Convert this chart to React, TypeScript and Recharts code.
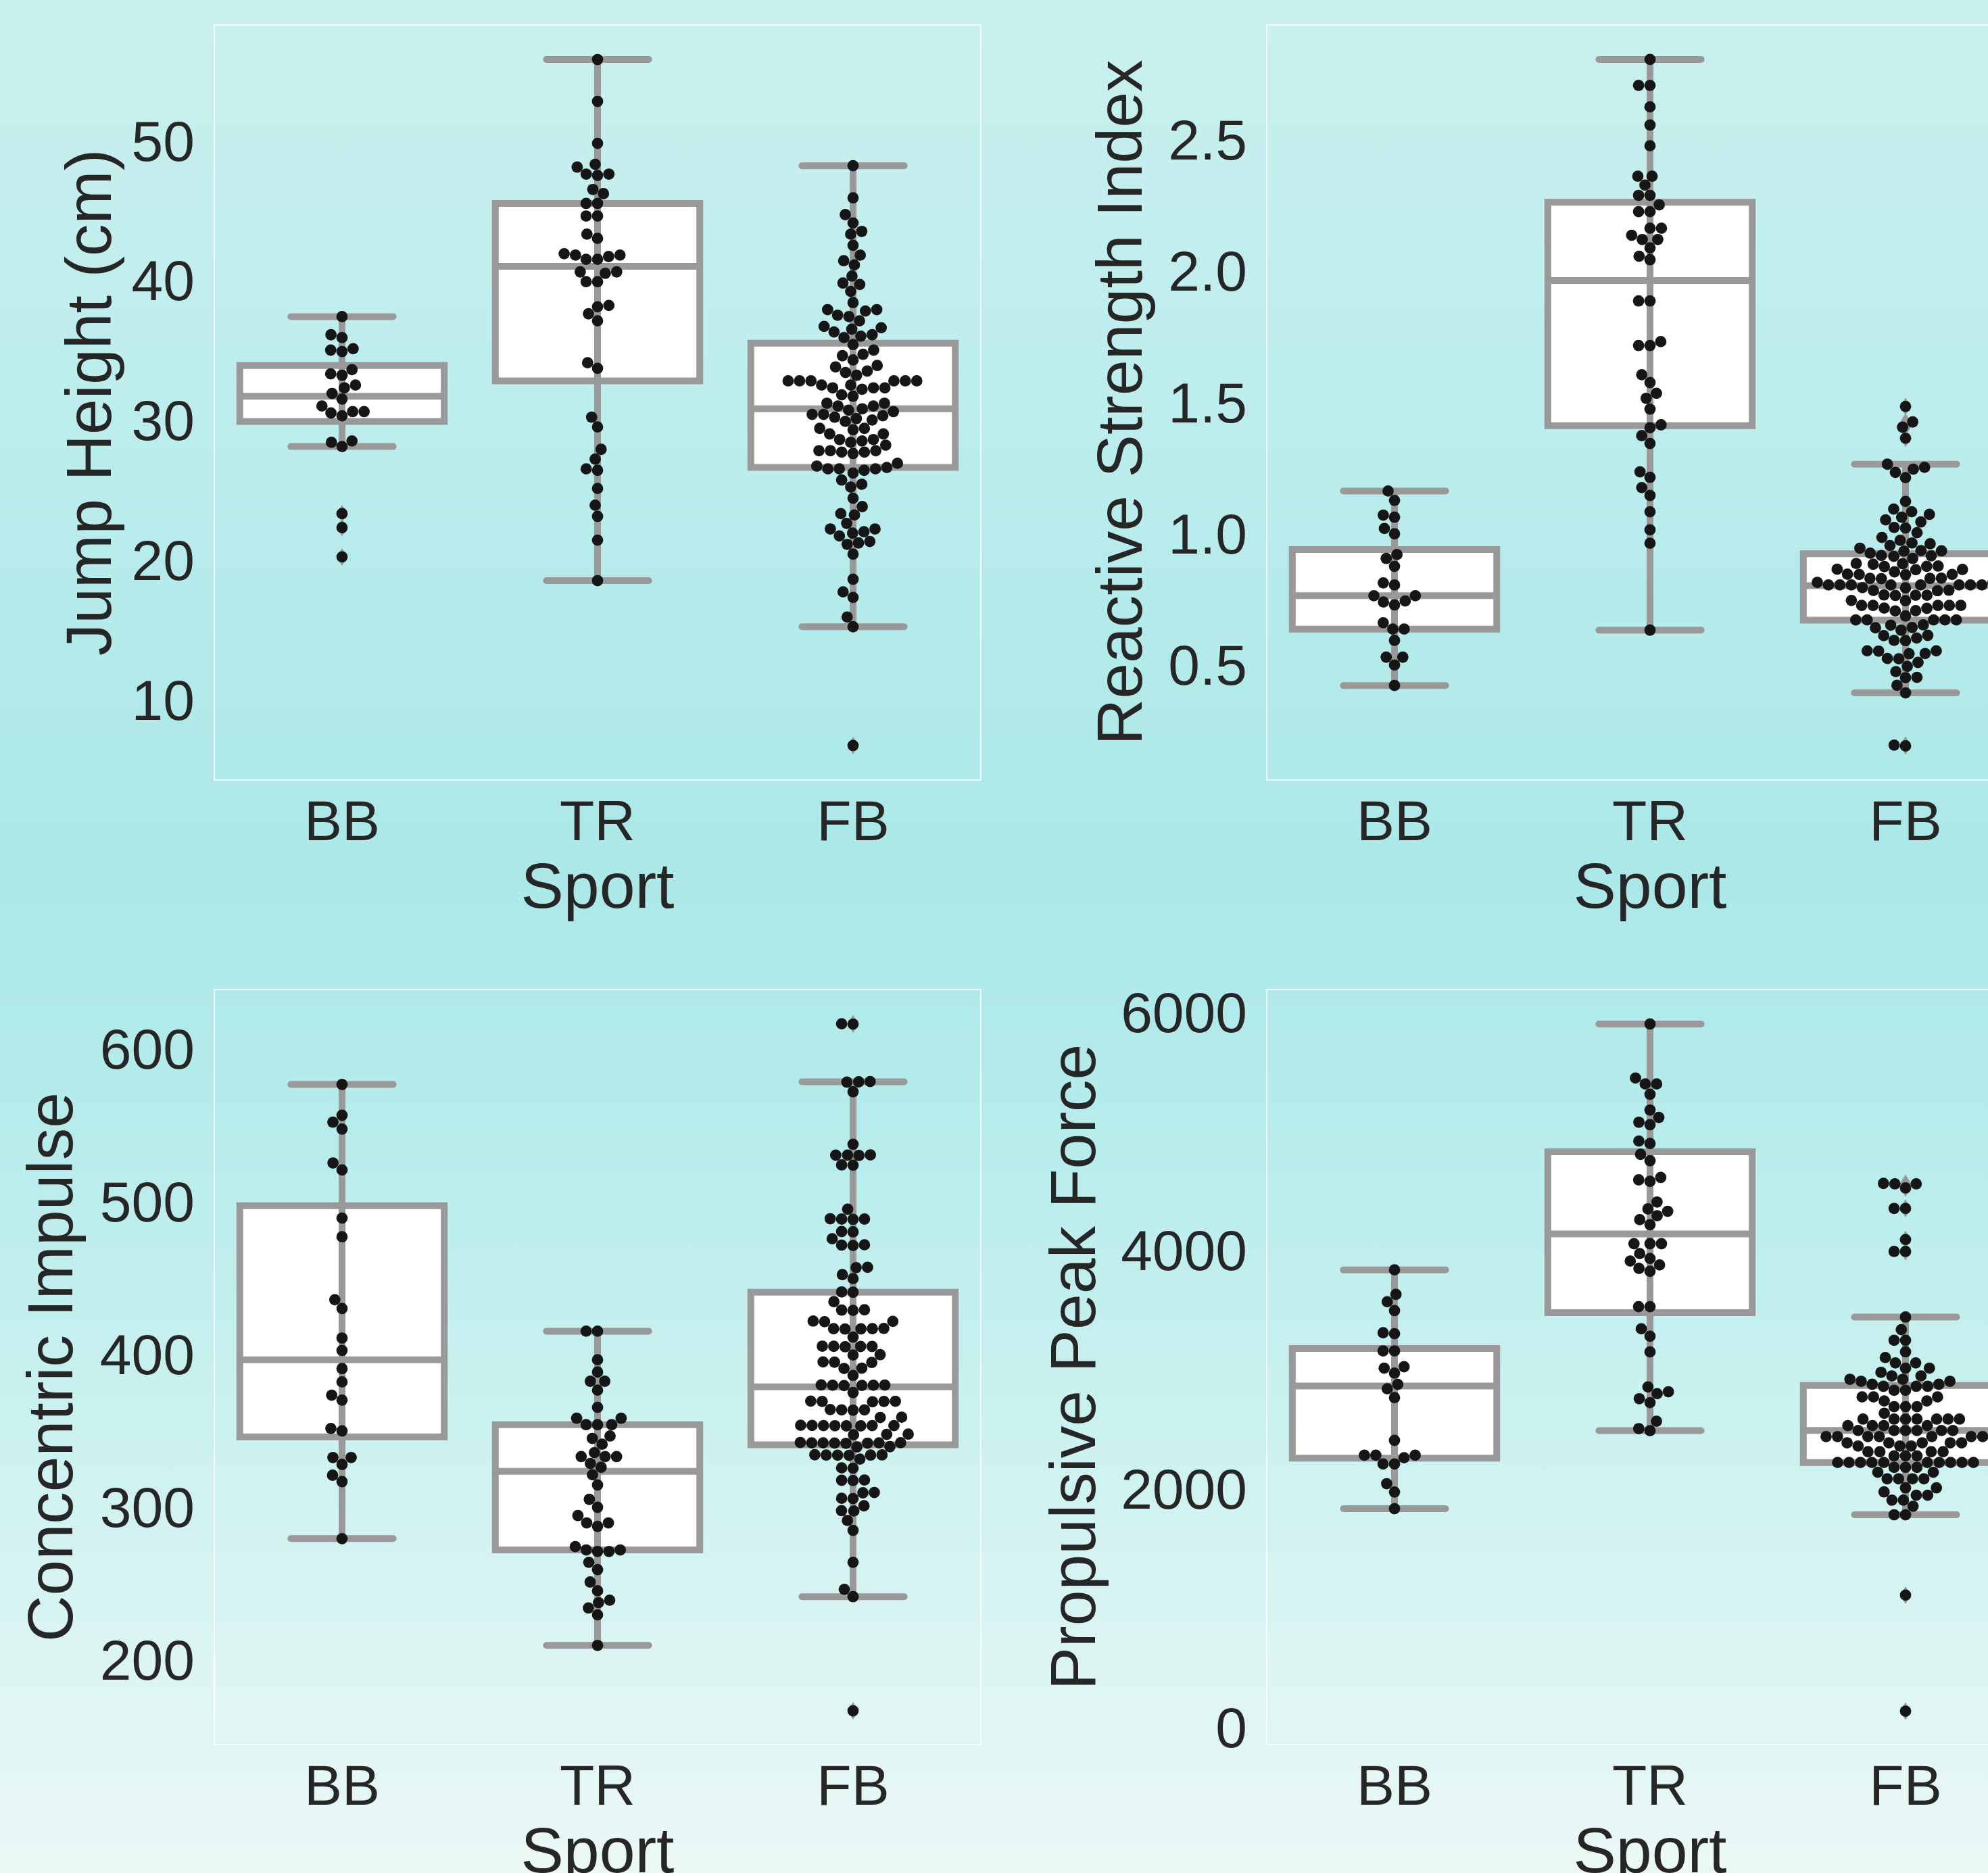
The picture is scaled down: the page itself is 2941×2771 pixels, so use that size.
import React from "react";
import {
  ScatterChart,
  Scatter,
  XAxis,
  YAxis,
  ReferenceArea,
  ReferenceLine,
} from "recharts";

const FONT = '"Liberation Sans", Arial, "DejaVu Sans", sans-serif';
const INK = "#262626";
const BOX_GRAY = "#999999";
const DOT_COLOR = "#161616";

const sports = ["BB", "TR", "FB"];

// Jump Height (cm)
const jumpBB = [37.4, 36.1, 35.9, 35.1, 35.0, 34.9, 33.6, 33.3, 33.2, 32.5, 32.3, 31.9, 31.5, 31.0, 30.6, 30.6, 30.5, 30.3, 28.5, 28.4, 28.1, 23.3, 22.3, 20.2];
const jumpTR = [55.8, 52.8, 49.8, 48.3, 48.1, 47.6, 47.6, 47.5, 46.5, 46.2, 45.5, 45.5, 44.6, 44.6, 43.3, 43.0, 41.9, 41.8, 41.8, 41.7, 41.5, 41.5, 40.6, 40.6, 40.5, 39.9, 39.9, 38.2, 38.1, 37.6, 37.1, 34.1, 33.7, 30.2, 29.5, 27.9, 27.2, 26.5, 26.4, 25.1, 23.9, 23.1, 21.4, 18.5];
const jumpFB = [
  48.2, 45.9, 44.7, 44.1, 43.5, 43.3, 42.5, 41.8, 41.4, 41.1, 40.3, 39.8, 39.7, 39.2, 38.4, 37.9, 37.9, 37.8,
  37.5, 37.4, 37.1, 36.7, 36.6, 36.5, 36.3, 36.1, 36.0, 35.9, 35.4, 35.0, 34.7, 34.6, 34.3, 33.9, 33.8, 33.5,
  33.4, 33.2, 32.8, 32.8, 32.8, 32.8, 32.8, 32.8, 32.5, 32.5, 32.3, 32.3, 32.2, 32.3, 31.8, 31.7, 31.2, 31.2,
  31.0, 31.0, 30.8, 30.7, 30.6, 30.4, 30.4, 30.3, 30.2, 30.1, 30.0, 29.9, 29.4, 29.4, 29.3, 29.0, 29.0, 28.6,
  28.6, 28.5, 28.4, 28.2, 27.8, 27.8, 27.8, 27.7, 27.6, 27.7, 26.9, 26.7, 26.6, 26.5, 26.5, 26.5, 26.4, 26.2,
  25.7, 25.4, 25.2, 24.4, 23.8, 23.3, 23.2, 22.6, 22.2, 22.2, 22.0, 21.9, 21.7, 21.3, 21.2, 21.1, 20.4, 18.6,
  17.7, 17.3, 15.9, 15.2, 6.7,
];
const jumpQ1 = [29.9, 32.8, 26.6];
const jumpMedian = [31.7, 41.0, 30.8];
const jumpQ3 = [33.9, 45.5, 35.5];
const jumpLow = [28.1, 18.5, 15.2];
const jumpHigh = [37.4, 55.8, 48.2];
const jumpTicks = [10, 20, 30, 40, 50];

// Reactive Strength Index
const rsiBB = [1.161, 1.125, 1.069, 1.061, 1.018, 0.998, 0.919, 0.904, 0.874, 0.811, 0.803, 0.762, 0.762, 0.742, 0.738, 0.727, 0.659, 0.635, 0.635, 0.592, 0.528, 0.528, 0.498, 0.42];
const rsiTR = [2.805, 2.706, 2.706, 2.624, 2.555, 2.476, 2.36, 2.36, 2.326, 2.287, 2.287, 2.251, 2.225, 2.225, 2.162, 2.162, 2.135, 2.119, 2.119, 2.087, 2.055, 2.042, 1.885, 1.885, 1.73, 1.715, 1.715, 1.604, 1.574, 1.533, 1.514, 1.473, 1.413, 1.402, 1.372, 1.342, 1.234, 1.213, 1.174, 1.144, 1.082, 1.013, 0.962, 0.631];
const rsiFB = [
  1.483, 1.424, 1.404, 1.362, 1.263, 1.251, 1.244, 1.232, 1.212, 1.121, 1.092, 1.082, 1.072, 1.061, 1.051, 1.043,
  1.022, 1.02, 1.002, 0.984, 0.973, 0.963, 0.96, 0.953, 0.943, 0.933, 0.932, 0.934, 0.924, 0.914, 0.912, 0.915,
  0.904, 0.884, 0.882, 0.885, 0.874, 0.873, 0.875, 0.862, 0.861, 0.863, 0.853, 0.843, 0.842, 0.844, 0.843, 0.828,
  0.827, 0.829, 0.828, 0.813, 0.812, 0.814, 0.803, 0.803, 0.803, 0.803, 0.803, 0.803, 0.803, 0.803, 0.793, 0.792,
  0.782, 0.781, 0.783, 0.764, 0.763, 0.765, 0.764, 0.744, 0.743, 0.725, 0.725, 0.725, 0.725, 0.725, 0.715, 0.714,
  0.705, 0.704, 0.685, 0.67, 0.67, 0.67, 0.67, 0.67, 0.651, 0.65, 0.641, 0.64, 0.631, 0.611, 0.61, 0.601, 0.592,
  0.591, 0.552, 0.552, 0.551, 0.542, 0.541, 0.523, 0.522, 0.508, 0.493, 0.473, 0.451, 0.45, 0.421, 0.392, 0.193, 0.19,
];
const rsiQ1 = [0.635, 1.41, 0.669];
const rsiMedian = [0.762, 1.963, 0.8];
const rsiQ3 = [0.938, 2.261, 0.922];
const rsiLow = [0.42, 0.631, 0.392];
const rsiHigh = [1.161, 2.805, 1.263];
const rsiTicks = [0.5, 1.0, 1.5, 2.0, 2.5];

// Concentric Impulse
const ciBB = [576.5, 556.3, 551.8, 547.3, 525.1, 520.5, 489.0, 476.8, 435.6, 429.8, 410.5, 402.4, 390.5, 381.8, 373.1, 369.9, 351.3, 349.7, 332.3, 332.3, 327.8, 320.7, 316.5, 279.2];
const ciTR = [415.0, 415.0, 396.3, 388.3, 382.2, 382.2, 376.4, 365.1, 358.0, 358.0, 353.8, 353.8, 353.8, 346.4, 344.8, 341.0, 335.5, 332.9, 332.9, 332.9, 328.4, 325.9, 321.0, 314.3, 304.9, 299.7, 294.3, 289.5, 289.5, 287.2, 274.0, 271.8, 271.8, 270.8, 270.8, 263.7, 258.9, 250.8, 245.1, 238.9, 237.3, 233.8, 229.3, 209.3];
const ciFB = [
  616.2, 616.0, 578.2, 578.4, 578.0, 571.7, 537.3, 530.2, 530.4, 530.0, 530.2, 523.8, 523.6, 494.8, 488.4, 488.6,
  488.2, 488.4, 480.0, 480.2, 475.5, 471.3, 471.5, 471.1, 456.8, 456.6, 452.0, 449.4, 440.7, 440.5, 434.3, 428.8,
  428.6, 429.0, 421.4, 421.2, 421.6, 416.6, 416.4, 416.8, 416.6, 416.5, 411.1, 405.0, 405.2, 404.8, 405.1, 405.0,
  399.6, 399.4, 394.7, 394.9, 394.5, 390.8, 390.6, 386.0, 379.6, 379.8, 379.4, 379.6, 379.7, 379.5, 374.8, 369.0,
  369.2, 368.8, 369.1, 369.0, 363.5, 363.7, 363.3, 363.5, 358.7, 358.5, 353.2, 353.4, 353.0, 353.2, 353.3, 353.1,
  353.2, 353.0, 347.4, 347.6, 347.2, 341.9, 342.1, 341.7, 341.9, 342.0, 341.8, 341.9, 341.6, 339.4, 339.2, 333.9,
  334.1, 333.7, 333.9, 334.0, 333.8, 331.3, 325.5, 325.3, 317.4, 317.6, 317.2, 309.4, 309.2, 305.6, 305.4, 300.7,
  297.5, 297.3, 291.1, 284.6, 263.7, 246.0, 241.2, 166.5,
];
const ciQ1 = [345.8, 271.8, 340.6];
const ciMedian = [396.3, 323.2, 378.6];
const ciQ3 = [497.1, 353.8, 440.5];
const ciLow = [279.2, 209.3, 241.2];
const ciHigh = [576.5, 415.0, 578.2];
const ciTicks = [200, 300, 400, 500, 600];

// Propulsive Peak Force
const ppfBB = [3835, 3629, 3567, 3493, 3307, 3299, 3155, 3155, 3022, 3010, 2969, 2874, 2837, 2763, 2404, 2280, 2280, 2280, 2259, 2206, 2206, 2041, 1971, 1831];
const ppfTR = [5897, 5444, 5394, 5394, 5307, 5175, 5113, 5073, 5052, 4915, 4895, 4804, 4750, 4610, 4590, 4577, 4404, 4346, 4326, 4289, 4256, 4214, 4054, 4054, 4054, 3971, 3930, 3909, 3876, 3847, 3823, 3526, 3526, 3340, 3278, 3146, 2853, 2812, 2796, 2754, 2721, 2565, 2503, 2486];
const ppfFB = [
  4556, 4556, 4560, 4522, 4350, 4350, 4089, 3989, 3989, 3439, 3333, 3244, 3244, 3147, 3099, 3054, 3054, 3010, 3010,
  2975, 2945, 2945, 2917, 2917, 2900, 2900, 2875, 2875, 2858, 2858, 2858, 2824, 2824, 2769, 2769, 2769, 2735, 2735,
  2687, 2687, 2687, 2632, 2583, 2583, 2583, 2583, 2583, 2583, 2583, 2528, 2528, 2528, 2528, 2487, 2487, 2487, 2487,
  2487, 2487, 2436, 2436, 2436, 2436, 2436, 2436, 2436, 2436, 2384, 2384, 2384, 2384, 2384, 2357, 2357, 2357, 2309,
  2309, 2309, 2309, 2274, 2274, 2274, 2219, 2219, 2219, 2219, 2219, 2219, 2219, 2219, 2219, 2219, 2178, 2178, 2178,
  2137, 2137, 2082, 2082, 2082, 2082, 2006, 2006, 1972, 1944, 1944, 1903, 1903, 1852, 1780, 1780, 1106, 133,
];
const ppfQ1 = [2255, 3476, 2219];
const ppfMedian = [2861, 4136, 2487];
const ppfQ3 = [3175, 4825, 2865];
const ppfLow = [1831, 2486, 1780];
const ppfHigh = [3835, 5897, 3439];
const ppfTicks = [0, 2000, 4000, 6000];

const CHART_W = 1600;
const CHART_H = 1420;
const Y_AXIS_W = 400;
const X_AXIS_H = 200;
const MARGIN = { top: 37, right: 49, bottom: 66, left: 17 };
const PLOT_W = CHART_W - MARGIN.left - Y_AXIS_W - MARGIN.right;
const PLOT_H = CHART_H - MARGIN.top - MARGIN.bottom - X_AXIS_H;
const DOT_R = 8.4;
const DOT_GAP = 16.9;
const SWARM_HALF = 0.4 * (PLOT_W / 3);

// beeswarm: place each point as close to the centre as it can go without overlap
function swarm(values: number[], pxPerUnit: number): number[] {
  const order = values.map((_, i) => i).sort((a, b) => values[a] - values[b]);
  const placed: { x: number; y: number }[] = [];
  const out = new Array(values.length).fill(0);
  for (const i of order) {
    const y = values[i] * pxPerUnit;
    const near = placed.filter((p) => Math.abs(p.y - y) < DOT_GAP);
    const cands = [0];
    near.forEach((p) => {
      const d = Math.sqrt(DOT_GAP * DOT_GAP - (p.y - y) ** 2);
      cands.push(p.x - d, p.x + d);
    });
    cands.sort((a, b) => Math.abs(a) - Math.abs(b));
    let chosen = 0;
    for (const c of cands) {
      if (near.every((p) => (p.x - c) ** 2 + (p.y - y) ** 2 >= DOT_GAP * DOT_GAP - 0.5)) {
        chosen = c;
        break;
      }
    }
    placed.push({ x: chosen, y });
    out[i] = Math.max(-SWARM_HALF, Math.min(SWARM_HALF, chosen));
  }
  return out;
}

type PanelProps = {
  title: string;
  titleOffset: number;
  groups: number[][];
  q1: number[];
  median: number[];
  q3: number[];
  low: number[];
  high: number[];
  domain: [number, number];
  ticks: number[];
  fmt: (v: number) => string;
  left: number;
  top: number;
};

function Panel(p: PanelProps) {
  const span = p.domain[1] - p.domain[0];
  const pxPerUnit = PLOT_H / span;
  const points = p.groups.flatMap((vals, g) => {
    const dx = swarm(vals, pxPerUnit);
    return vals.map((v, i) => ({ x: g, y: v, dx: dx[i] }));
  });
  const fliers = p.groups.flatMap((vals, g) =>
    vals
      .filter((v) => v < p.low[g] - span * 0.001 || v > p.high[g] + span * 0.001)
      .map((v) => ({ x: g, y: v }))
  );

  const yTitle = (props: any) => {
    const vb = props.viewBox;
    const x = vb.x + vb.width - p.titleOffset;
    const y = vb.y + vb.height / 2;
    return (
      <text x={x} y={y} transform={`rotate(-90 ${x} ${y})`} textAnchor="middle" fontSize={95} fill={INK} fontFamily={FONT}>
        {p.title}
      </text>
    );
  };
  const xTitle = (props: any) => {
    const vb = props.viewBox;
    return (
      <text x={vb.x + vb.width / 2} y={vb.y + 189} textAnchor="middle" fontSize={95} fill={INK} fontFamily={FONT}>
        Sport
      </text>
    );
  };

  return (
    <div style={{ position: "absolute", left: p.left, top: p.top, width: CHART_W, height: CHART_H }}>
      <div
        style={{
          position: "absolute",
          boxSizing: "border-box",
          left: MARGIN.left + Y_AXIS_W - 1,
          top: MARGIN.top - 1,
          width: PLOT_W + 2,
          height: PLOT_H + 2,
          border: "2px solid rgba(255,255,255,0.85)",
        }}
      />
      <ScatterChart width={CHART_W} height={CHART_H} margin={MARGIN} style={{ position: "absolute", left: 0, top: 0 }}>
        <XAxis
          type="number"
          dataKey="x"
          domain={[-0.5, 2.5]}
          ticks={[0, 1, 2]}
          interval={0}
          tickFormatter={(i: number) => sports[i]}
          axisLine={false}
          tickLine={false}
          tickSize={0}
          tickMargin={29}
          height={X_AXIS_H}
          tick={{ fontSize: 84, fill: INK, fontFamily: FONT }}
          label={xTitle}
          allowDataOverflow
        />
        <YAxis
          type="number"
          dataKey="y"
          domain={p.domain}
          ticks={p.ticks}
          interval={0}
          tickFormatter={p.fmt}
          axisLine={false}
          tickLine={false}
          tickSize={0}
          tickMargin={29}
          width={Y_AXIS_W}
          tick={{ fontSize: 84, fill: INK, fontFamily: FONT }}
          label={yTitle}
          allowDataOverflow
        />
        {sports.map((s, g) => (
          <ReferenceLine
            key={`wl-${s}`}
            segment={[{ x: g, y: p.low[g] }, { x: g, y: p.high[g] }]}
            stroke={BOX_GRAY}
            strokeWidth={10}
          />
        ))}
        {sports.map((s, g) => (
          <ReferenceLine
            key={`cl-${s}`}
            segment={[{ x: g - 0.2, y: p.low[g] }, { x: g + 0.2, y: p.low[g] }]}
            stroke={BOX_GRAY}
            strokeWidth={10}
            strokeLinecap="round"
          />
        ))}
        {sports.map((s, g) => (
          <ReferenceLine
            key={`ch-${s}`}
            segment={[{ x: g - 0.2, y: p.high[g] }, { x: g + 0.2, y: p.high[g] }]}
            stroke={BOX_GRAY}
            strokeWidth={10}
            strokeLinecap="round"
          />
        ))}
        {sports.map((s, g) => (
          <ReferenceArea
            key={`box-${s}`}
            x1={g - 0.4}
            x2={g + 0.4}
            y1={p.q1[g]}
            y2={p.q3[g]}
            fill="#ffffff"
            fillOpacity={1}
            stroke={BOX_GRAY}
            strokeWidth={10}
          />
        ))}
        {sports.map((s, g) => (
          <ReferenceLine
            key={`med-${s}`}
            segment={[{ x: g - 0.4, y: p.median[g] }, { x: g + 0.4, y: p.median[g] }]}
            stroke={BOX_GRAY}
            strokeWidth={10}
          />
        ))}
        <Scatter
          data={fliers}
          isAnimationActive={false}
          shape={(props: any) => (
            <polygon
              points={`${props.cx},${props.cy - 13} ${props.cx + 8},${props.cy} ${props.cx},${props.cy + 13} ${props.cx - 8},${props.cy}`}
              fill={BOX_GRAY}
            />
          )}
        />
        <Scatter
          data={points}
          isAnimationActive={false}
          shape={(props: any) => (
            <circle cx={props.cx + (props.payload?.dx ?? 0)} cy={props.cy} r={DOT_R} fill={DOT_COLOR} />
          )}
        />
      </ScatterChart>
    </div>
  );
}

export default function App() {
  return (
    <div
      style={{
        position: "absolute",
        left: 0,
        top: 0,
        width: 2941,
        height: 2771,
        overflow: "hidden",
        background:
          "linear-gradient(180deg, #c9f0ee 0%, #bdeded 22%, #ace8e8 46%, #b4ebeb 58%, #cdf2f0 78%, #ebf8f6 100%)",
      }}
    >
      <Panel
        title="Jump Height (cm)"
        titleOffset={153}
        groups={[jumpBB, jumpTR, jumpFB]}
        q1={jumpQ1}
        median={jumpMedian}
        q3={jumpQ3}
        low={jumpLow}
        high={jumpHigh}
        domain={[4.23, 58.27]}
        ticks={jumpTicks}
        fmt={(v) => String(v)}
        left={-100}
        top={0}
      />
      <Panel
        title="Reactive Strength Index"
        titleOffset={185}
        groups={[rsiBB, rsiTR, rsiFB]}
        q1={rsiQ1}
        median={rsiMedian}
        q3={rsiQ3}
        low={rsiLow}
        high={rsiHigh}
        domain={[0.06, 2.936]}
        ticks={rsiTicks}
        fmt={(v) => v.toFixed(1)}
        left={1457}
        top={0}
      />
      <Panel
        title="Concentric Impulse"
        titleOffset={210}
        groups={[ciBB, ciTR, ciFB]}
        q1={ciQ1}
        median={ciMedian}
        q3={ciQ3}
        low={ciLow}
        high={ciHigh}
        domain={[144.4, 638.6]}
        ticks={ciTicks}
        fmt={(v) => String(v)}
        left={-100}
        top={1427}
      />
      <Panel
        title="Propulsive Peak Force"
        titleOffset={254}
        groups={[ppfBB, ppfTR, ppfFB]}
        q1={ppfQ1}
        median={ppfMedian}
        q3={ppfQ3}
        low={ppfLow}
        high={ppfHigh}
        domain={[-147.5, 6186]}
        ticks={ppfTicks}
        fmt={(v) => String(v)}
        left={1457}
        top={1427}
      />
    </div>
  );
}
